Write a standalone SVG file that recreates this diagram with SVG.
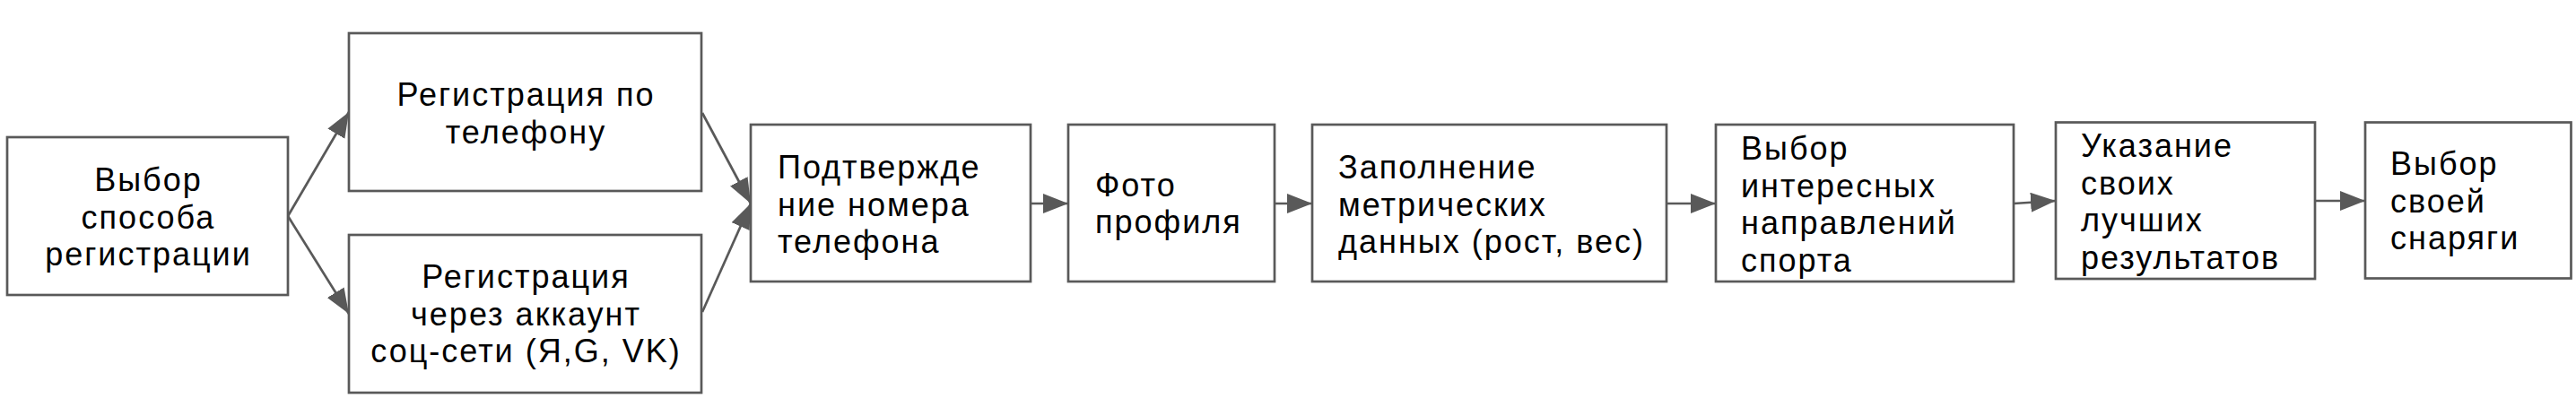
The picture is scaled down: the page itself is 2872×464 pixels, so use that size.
<svg xmlns="http://www.w3.org/2000/svg" width="2872" height="464" viewBox="0 0 2872 464">
<style>
  .box { fill: #ffffff; stroke: #595959; stroke-width: 2.7; }
  .t { font-family: "Liberation Sans", Arial, sans-serif; font-size: 36px; fill: #000000; letter-spacing: 2px; }
  .c { text-anchor: middle; }
  .conn line { stroke: #595959; stroke-width: 2.7; fill: none; marker-end: url(#arr); }
</style>
<defs>
  <marker id="arr" markerUnits="userSpaceOnUse" markerWidth="30" markerHeight="24" refX="28" refY="11" orient="auto">
    <path d="M0,0 L28,11 L0,22 Z" fill="#595959"/>
  </marker>
</defs>
<rect width="2872" height="464" fill="#ffffff"/>
<g id="connectors" class="conn">
  <line x1="321" y1="241" x2="389" y2="125"/>
  <line x1="321" y1="241" x2="389" y2="350"/>
  <line x1="783" y1="126" x2="837" y2="227"/>
  <line x1="783" y1="348" x2="837" y2="227"/>
  <line x1="1149" y1="227" x2="1191" y2="227"/>
  <line x1="1421" y1="227" x2="1463" y2="227"/>
  <line x1="1858" y1="227" x2="1913" y2="227"/>
  <line x1="2245" y1="227" x2="2292" y2="224"/>
  <line x1="2581" y1="224" x2="2637" y2="224"/>
</g>
<g id="n1">
  <rect class="box" x="8" y="153" width="313" height="176"/>
  <text class="t c"><tspan x="165.5" y="213">Выбор</tspan><tspan x="165.5" y="254.5">способа</tspan><tspan x="165.5" y="296">регистрации</tspan></text>
</g>
<g id="n2">
  <rect class="box" x="389" y="37" width="393" height="176"/>
  <text class="t c"><tspan x="586.5" y="118">Регистрация по</tspan><tspan x="586.5" y="159.5">телефону</tspan></text>
</g>
<g id="n3">
  <rect class="box" x="389" y="262" width="393" height="176"/>
  <text class="t c"><tspan x="586.5" y="321">Регистрация</tspan><tspan x="586.5" y="362.5">через аккаунт</tspan><tspan x="586.5" y="404">соц-сети (Я,G, VK)</tspan></text>
</g>
<g id="n4">
  <rect class="box" x="837" y="139" width="312" height="175"/>
  <text class="t"><tspan x="867" y="199">Подтвержде</tspan><tspan x="867" y="240.5">ние номера</tspan><tspan x="867" y="282">телефона</tspan></text>
</g>
<g id="n5">
  <rect class="box" x="1191" y="139" width="230" height="175"/>
  <text class="t"><tspan x="1221" y="218.5">Фото</tspan><tspan x="1221" y="260">профиля</tspan></text>
</g>
<g id="n6">
  <rect class="box" x="1463" y="139" width="395" height="175"/>
  <text class="t"><tspan x="1492" y="199">Заполнение</tspan><tspan x="1492" y="240.5">метрических</tspan><tspan x="1492" y="282">данных (рост, вес)</tspan></text>
</g>
<g id="n7">
  <rect class="box" x="1913" y="139" width="332" height="175"/>
  <text class="t"><tspan x="1941" y="178">Выбор</tspan><tspan x="1941" y="219.5">интересных</tspan><tspan x="1941" y="261">направлений</tspan><tspan x="1941" y="302.5">спорта</tspan></text>
</g>
<g id="n8">
  <rect class="box" x="2292" y="136.5" width="289" height="174.5"/>
  <text class="t"><tspan x="2320" y="175">Указание</tspan><tspan x="2320" y="216.5">своих</tspan><tspan x="2320" y="258">лучших</tspan><tspan x="2320" y="299.5">результатов</tspan></text>
</g>
<g id="n9">
  <rect class="box" x="2637" y="136.5" width="229.5" height="174"/>
  <text class="t"><tspan x="2665" y="195">Выбор</tspan><tspan x="2665" y="236.5">своей</tspan><tspan x="2665" y="278">снаряги</tspan></text>
</g>
</svg>
